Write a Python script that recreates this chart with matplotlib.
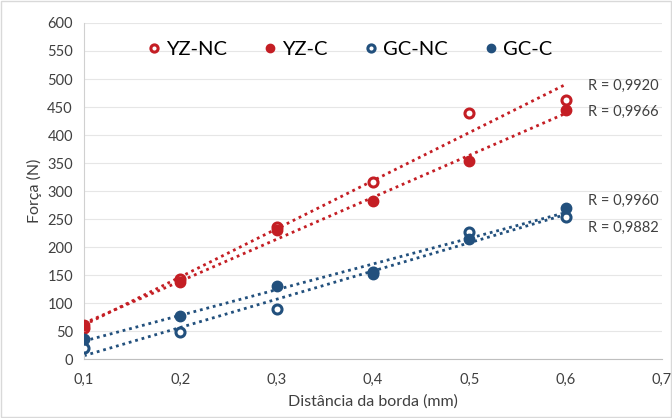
import numpy as np
import matplotlib
matplotlib.use('Agg')
import matplotlib.pyplot as plt
from matplotlib.patches import Rectangle

plt.rcParams['font.family'] = ['Lato', 'DejaVu Sans']

# data
dist = [0.1, 0.2, 0.3, 0.4, 0.5, 0.6]
yz_nc = [55, 143, 236, 317, 440, 462]
yz_c = [60, 138, 230, 282, 353, 445]
gc_nc = [20, 48, 90, 155, 226, 253]
gc_c = [36, 77, 131, 152, 215, 270]

series_names = ['YZ-NC', 'YZ-C', 'GC-NC', 'GC-C']
r_labels = ['R = 0,9920', 'R = 0,9966', 'R = 0,9960', 'R = 0,9882']
r_label_y = [487, 441, 282, 234]

x_ticks = [0.1, 0.2, 0.3, 0.4, 0.5, 0.6, 0.7]
y_ticks = list(range(0, 601, 50))

red = '#C41E24'
blue = '#22507D'

fig = plt.figure(figsize=(6.72, 4.18), dpi=100)
ax = fig.add_axes([0.125, 0.141, 0.86, 0.804])

styles = [
    (yz_nc, red, True),
    (yz_c, red, False),
    (gc_nc, blue, True),
    (gc_c, blue, False),
]

x = np.array(dist)
for (vals, col, hollow), name in zip(styles, series_names):
    y = np.array(vals)
    k, b = np.polyfit(x, y, 1)
    ax.plot(x, k * x + b, linestyle=(0, (1, 1.4)), color=col, lw=2, zorder=2)
    if hollow:
        ax.plot(x, y, 'o', ms=6.5, mfc='white', mec=col, mew=2.2, label=name, zorder=3)
    else:
        ax.plot(x, y, 'o', ms=7.5, color=col, label=name, zorder=3)

for txt, yy in zip(r_labels, r_label_y):
    ax.text(0.623, yy, txt, fontsize=10.5, color='#404040', va='center', ha='left')

ax.set_xlim(0.1, 0.7)
ax.set_ylim(0, 600)
ax.set_xticks(x_ticks)
ax.set_xticklabels([f'{t:.1f}'.replace('.', ',') for t in x_ticks])
ax.set_yticks(y_ticks)
ax.tick_params(axis='both', length=0, labelsize=10.5, colors='#404040')
ax.tick_params(axis='x', pad=10)
ax.tick_params(axis='y', pad=8)
ax.grid(axis='y', color='#E6E6E6', lw=0.8)
ax.set_axisbelow(True)
for s in ['top', 'right']:
    ax.spines[s].set_visible(False)
ax.spines['left'].set_color('#D0D0D0')
ax.spines['bottom'].set_color('#BFBFBF')

ax.set_xlabel('Distância da borda (mm)', fontsize=11.5, color='#404040', labelpad=5)
ax.set_ylabel('Força (N)', fontsize=11.5, color='#404040', labelpad=4)

ax.legend(loc='upper left', bbox_to_anchor=(0.07, 1.0), ncol=4, frameon=False,
          fontsize=14.5, handletextpad=0.05, columnspacing=1.6, markerscale=0.8,
          handlelength=1.1)

fig.patches.append(Rectangle((0.002, 0.002), 0.996, 0.996, transform=fig.transFigure,
                             fill=False, edgecolor='#D9D9D9', lw=1))

fig.savefig('out.png', dpi=100)
